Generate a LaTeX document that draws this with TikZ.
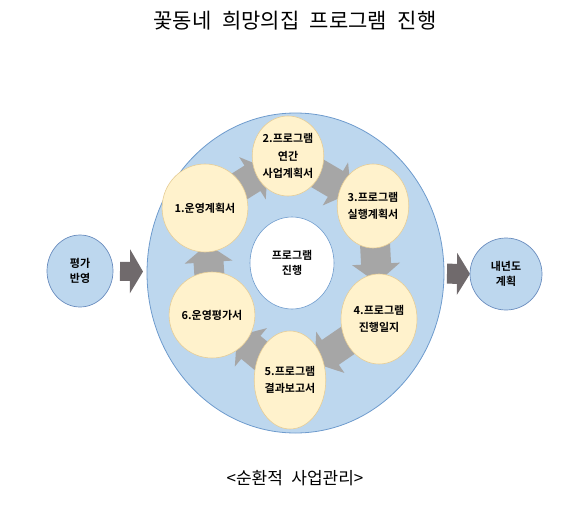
\documentclass[tikz,border=0pt]{standalone}
\usepackage{fontspec}
\setmainfont{Noto Sans CJK KR}[BoldFont={Noto Sans CJK KR Bold}]
\usetikzlibrary{shapes.geometric,calc}
\definecolor{bigblue}{RGB}{189,215,238}
\definecolor{bigline}{RGB}{110,155,205}
\definecolor{cream}{RGB}{255,242,204}
\definecolor{creamline}{RGB}{230,205,150}
\definecolor{sideblue}{RGB}{189,215,238}
\definecolor{sideline}{RGB}{105,140,190}
\definecolor{garrowc}{RGB}{166,166,166}
\definecolor{darrowc}{RGB}{112,106,108}
\pgfdeclarelayer{bglayer}
\pgfdeclarelayer{arrlayer}
\pgfsetlayers{bglayer,arrlayer,main}
\tikzset{
  stepnode/.style={ellipse, fill=cream, draw=creamline, line width=0.6pt, inner sep=0pt,
    align=center, font=\fontsize{11}{17.5}\selectfont\bfseries},
  sidenode/.style={ellipse, fill=sideblue, draw=sideline, line width=0.7pt, inner sep=0pt,
    align=center, font=\fontsize{11}{15}\selectfont\bfseries},
}
% block arrow from node #2 to node #3: tail, head base and tip at distances #4,#5,#6
% from the centre of #2 towards #3; half shaft width #7, half head width #8
\newcommand{\blockarrow}[8][garrowc]{%
  \coordinate (bS) at ($(#2.center)!#4pt!(#3.center)$);
  \coordinate (bH) at ($(#2.center)!#5pt!(#3.center)$);
  \coordinate (bT) at ($(#2.center)!#6pt!(#3.center)$);
  \fill[#1] ($(bS)!#7pt!90:(bT)$) -- ($(bH)!#7pt!90:(bT)$) -- ($(bH)!#8pt!90:(bT)$) -- (bT)
    -- ($(bH)!#8pt!-90:(bT)$) -- ($(bH)!#7pt!-90:(bT)$) -- ($(bS)!#7pt!-90:(bT)$) -- cycle;
}
\begin{document}
\begin{tikzpicture}[x=1pt,y=-1pt]
\useasboundingbox (0,0) rectangle (588,522);
\node[font=\fontsize{21}{23}\selectfont] (title) at (295,21) {꽃동네\hspace{0.5em}희망의집\hspace{0.5em}프로그램\hspace{0.5em}진행};
% big ellipse and centre
\begin{pgfonlayer}{bglayer}
\node[ellipse, fill=bigblue, draw=bigline, line width=0.8pt, minimum width=297pt, minimum height=320pt, inner sep=0pt] (big) at (295.5,273) {};
\node[ellipse, fill=white, draw=bigline, line width=0.6pt, minimum width=84pt, minimum height=92pt, inner sep=0pt,
  align=center, font=\fontsize{11}{15}\selectfont\bfseries] (core) at (292,263) {프로그램\\진행};
\end{pgfonlayer}
% step nodes
\node[stepnode, minimum width=60pt, minimum height=88pt] (n1) at (205,208) {1.운영계획서};
\node[stepnode, minimum width=62pt, minimum height=80pt] (n2) at (288,156) {2.프로그램\\연간\\사업계획서};
\node[stepnode, minimum width=64pt, minimum height=84pt] (n3) at (373,206) {3.프로그램\\실행계획서};
\node[stepnode, minimum width=76pt, minimum height=90pt] (n4) at (379,319) {4.프로그램\\진행일지};
\node[stepnode, minimum width=68pt, minimum height=98pt] (n5) at (290,380) {5.프로그램\\결과보고서};
\node[stepnode, minimum width=78pt, minimum height=86pt] (n6) at (212,315) {6.운영평가서};
% side nodes
\node[sidenode, minimum width=66pt, minimum height=72pt] (left) at (80,271) {평가\\반영};
\node[sidenode, minimum width=72pt, minimum height=72pt] (right) at (506,274) {내년도\\계획};
% block arrows, behind the step nodes
\begin{pgfonlayer}{arrlayer}
\blockarrow{n1}{n2}{22}{56}{74}{15}{25}
\blockarrow{n2}{n3}{22}{55}{73}{15}{25}
\blockarrow{n3}{n4}{32}{58}{77}{15}{24}
\blockarrow{n4}{n5}{30}{59}{78}{15}{25}
\blockarrow{n5}{n6}{28}{51}{69}{15}{25}
\blockarrow{n6}{n1}{33}{53}{71}{15}{24}
\blockarrow[darrowc]{left}{big}{40}{50}{63}{9.5}{22}
\blockarrow[darrowc]{big}{right}{151.5}{161.5}{174.5}{10}{21}
\end{pgfonlayer}
\node[font=\fontsize{17}{19}\selectfont] (caption) at (295,478) {<순환적\hspace{0.5em}사업관리>};
\end{tikzpicture}
\end{document}
